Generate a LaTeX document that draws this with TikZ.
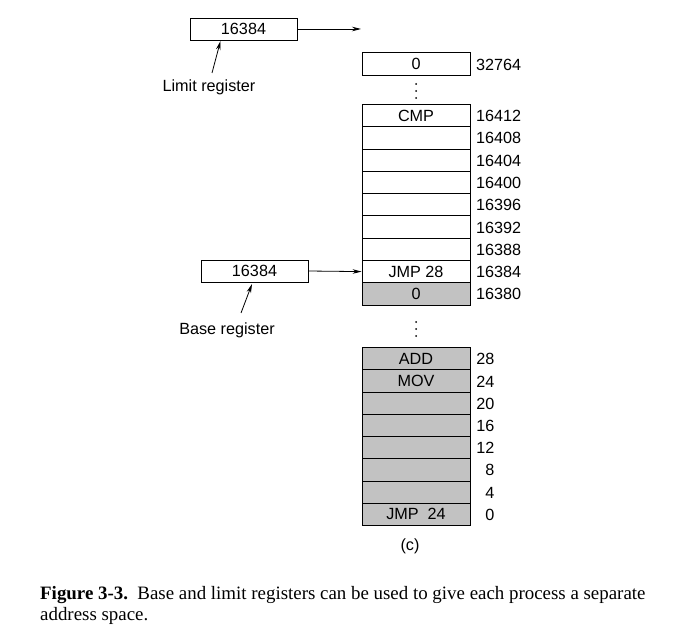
\documentclass[tikz,border=0pt]{standalone}
\usepackage{fontspec}
\setmainfont{Liberation Serif}
\setsansfont{Liberation Sans}
\usetikzlibrary{arrows.meta}
\begin{document}
\begin{tikzpicture}[x=1pt,y=-1pt,
  lbl/.style={font=\sffamily\fontsize{16.2}{18}\selectfont, inner sep=0pt},
  cell/.style={draw, line width=0.8pt, minimum width=108pt, minimum height=22.3pt,
    inner sep=0pt, font=\sffamily\fontsize{16.2}{18}\selectfont},
  used/.style={cell, fill=black!24},
  reg/.style={draw, line width=0.8pt, minimum width=107pt, minimum height=22pt,
    inner sep=0pt, font=\sffamily\fontsize{16.2}{18}\selectfont},
  ptr/.style={line width=0.8pt, -{Stealth[length=9pt,width=4.5pt]}},
  dot/.style={fill=black}]
\useasboundingbox (0,0) rectangle (687,636);

% limit register
\node[reg] (limit) at (243.5,29) {16384};
\coordinate (limtip) at (361,29);
\draw[ptr] (limit.east) -- (limtip);
\node[lbl] (limlbl) at (209,87) {Limit register};
\coordinate (limtail) at (212,73);
\draw[ptr] (limtail) -- (220.5,41);

% top of the partition
\node[cell] (top) at (416,64) {0};
\node[lbl, anchor=west] (atop) at (476,64.5) {32764};
\foreach \yy in {84,91,98} \fill[dot] (416,\yy) circle (1pt);

% upper partition cells
\foreach \i/\txt/\addr in {0/CMP/16412,1//16408,2//16404,3//16400,4//16396,
    5//16392,6//16388,7/JMP 28/16384} {
  \node[cell] (u\i) at (416,115.5+22.3*\i) {\txt};
  \node[lbl, anchor=west] (ua\i) at (476,116+22.3*\i) {\addr};
}
\node[used] (u8) at (416,115.5+22.3*8) {0};
\node[lbl, anchor=west] (ua8) at (476,116+22.3*8) {16380};

% base register
\node[reg] (base) at (254.5,271) {16384};
\draw[ptr] (base.east) -- (u7.west);
\node[lbl] (baselbl) at (227,330) {Base register};
\coordinate (basetail) at (241,313);
\draw[ptr] (basetail) -- (252,284);

\foreach \yy in {322,329,336} \fill[dot] (416,\yy) circle (1pt);

% lower partition cells
\foreach \i/\txt/\addr in {0/ADD/28,1/MOV/24,2//20,3//16,4//12,5//8,6//4,7/JMP\ \ 24/0} {
  \node[used] (l\i) at (416,358.6+22.25*\i) {\txt};
  \node[lbl, anchor=east] (la\i) at (494.5,359.1+22.25*\i) {\addr};
}

\node[lbl] (sub) at (410,546) {(c)};

% caption
\node[anchor=north west, inner sep=0pt, align=left,
  font=\fontsize{18.9}{21}\selectfont] (cap) at (40,586)
  {\textbf{Figure 3-3.}\ \ Base and limit registers can be used to give each process a separate\\
   address space.};
\end{tikzpicture}
\end{document}
